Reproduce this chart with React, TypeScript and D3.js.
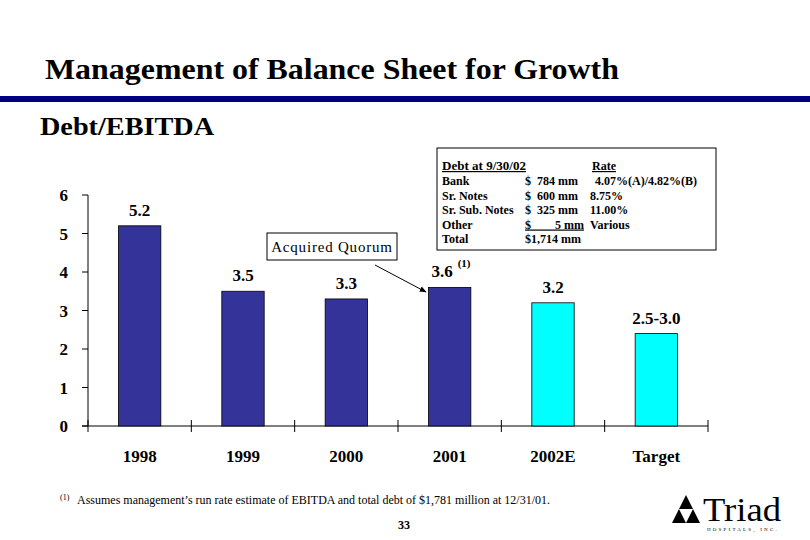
import React from "react";
import * as d3 from "d3";

const categories = ["1998", "1999", "2000", "2001", "2002E", "Target"];
const values = [5.2, 3.5, 3.3, 3.6, 3.2, 2.4];
const valueLabels = ["5.2", "3.5", "3.3", "3.6", "3.2", "2.5-3.0"];
const estimated = [false, false, false, false, true, true];
const yTicks = [0, 1, 2, 3, 4, 5, 6];

const tableRows = [
  ["Bank", "$  784 mm", "4.07%(A)/4.82%(B)"],
  ["Sr. Notes", "$  600 mm", "8.75%"],
  ["Sr. Sub. Notes", "$  325 mm", "11.00%"],
  ["Other", "$        5 mm", "Various"],
  ["Total", "$1,714 mm", ""],
];

export default function App() {
  const W = 810, H = 540;
  const x0 = 88, x1 = 708, yTop = 195, yBot = 426;
  const x = d3.scaleBand<string>().domain(categories).range([x0, x1]).paddingInner(0).paddingOuter(0);
  const y = d3.scaleLinear().domain([0, 6]).range([yBot, yTop]);
  const bw = x.bandwidth() * 0.41;
  const serif = "Liberation Serif, DejaVu Serif, serif";
  const boundaries = [...categories.map((c) => x(c)!), x1];

  return (
    <svg width={W} height={H} style={{ position: "absolute", left: 0, top: 0, background: "#fff", fontFamily: serif }}>
      <rect x={0} y={0} width={W} height={H} fill="#fff" />
      <text x={45} y={79} fontSize={29} fontWeight="bold" textLength={574} lengthAdjust="spacingAndGlyphs">Management of Balance Sheet for Growth</text>
      <rect x={0} y={96} width={W} height={6} fill="#000080" />
      <text x={40} y={135} fontSize={25} fontWeight="bold" textLength={174} lengthAdjust="spacingAndGlyphs">Debt/EBITDA</text>

      {/* axes */}
      <line x1={x0} y1={yTop} x2={x0} y2={yBot} stroke="#000" strokeWidth={1} />
      <line x1={x0 - 6} y1={yBot} x2={x1} y2={yBot} stroke="#000" strokeWidth={1} />
      {yTicks.map((t) => (
        <g key={t}>
          <line x1={x0 - 6} x2={x0} y1={y(t)} y2={y(t)} stroke="#000" />
          <text x={68} y={y(t) + 6} fontSize={17} fontWeight="bold" textAnchor="end">{t}</text>
        </g>
      ))}
      {boundaries.map((b, i) => (
        <line key={i} x1={b} x2={b} y1={yBot - 6} y2={yBot + 6} stroke="#000" />
      ))}
      {categories.map((c, i) => {
        const cx = x(c)! + x.bandwidth() / 2;
        const sup = c === "2001";
        return (
          <g key={c}>
            <rect x={cx - bw / 2} y={y(values[i])} width={bw} height={yBot - y(values[i])}
              fill={estimated[i] ? "#00FFFF" : "#333399"} stroke="#000" strokeWidth={0.8} />
            <text x={sup ? cx + 3 : cx} y={y(values[i]) - 10} fontSize={17} fontWeight="bold" textAnchor={sup ? "end" : "middle"}>{valueLabels[i]}</text>
            {sup && <text x={cx + 8} y={y(values[i]) - 20} fontSize={11} fontWeight="bold">(1)</text>}
            <text x={cx} y={462} fontSize={17} fontWeight="bold" textAnchor="middle">{c}</text>
          </g>
        );
      })}

      {/* Acquired Quorum callout */}
      <rect x={267} y={233} width={130} height={27} fill="#fff" stroke="#000" strokeWidth={1} />
      <text x={332} y={252} fontSize={15} textAnchor="middle" letterSpacing={0.8}>Acquired Quorum</text>
      <defs>
        <marker id="ah" viewBox="0 0 10 10" refX={9} refY={5} markerWidth={7} markerHeight={7} orient="auto">
          <path d="M0,1 L10,5 L0,9 z" fill="#000" />
        </marker>
      </defs>
      <line x1={375} y1={265} x2={426} y2={292} stroke="#000" strokeWidth={1} markerEnd="url(#ah)" />

      {/* debt table */}
      <rect x={437} y={148} width={279} height={102} fill="#fff" stroke="#000" strokeWidth={1} />
      <text x={442} y={170} fontSize={12} fontWeight="bold" textDecoration="underline" textLength={84} lengthAdjust="spacingAndGlyphs">Debt at 9/30/02</text>
      <text x={592} y={170} fontSize={12} fontWeight="bold" textDecoration="underline">Rate</text>
      {tableRows.map((r, i) => (
        <g key={i} fontSize={12} fontWeight="bold">
          <text x={442} y={185 + i * 14.5}>{r[0]}</text>
          <text x={525} y={185 + i * 14.5} textDecoration={i === 3 ? "underline" : undefined} style={{ whiteSpace: "pre" }}>{r[1]}</text>
          <text x={i === 0 ? 595 : 590} y={185 + i * 14.5}>{r[2]}</text>
        </g>
      ))}

      {/* footnote */}
      <text x={60} y={500} fontSize={8}>(1)</text>
      <text x={77} y={504} fontSize={12.5} textLength={473} lengthAdjust="spacingAndGlyphs">Assumes management’s run rate estimate of EBITDA and total debt of $1,781 million at 12/31/01.</text>
      <text x={404} y={529} fontSize={12} fontWeight="bold" textAnchor="middle">33</text>

      {/* logo */}
      <g>
        <path d="M686,495 L700,523 L672,523 Z" fill="#000" />
        <path d="M679,509 L693,509 L686,523 Z" fill="#fff" />
        <text x={703} y={521} fontSize={33} textLength={78} lengthAdjust="spacingAndGlyphs">Triad</text>
        <text x={707} y={531} fontSize={5} letterSpacing={2.2}>HOSPITALS, INC.</text>
      </g>
    </svg>
  );
}
